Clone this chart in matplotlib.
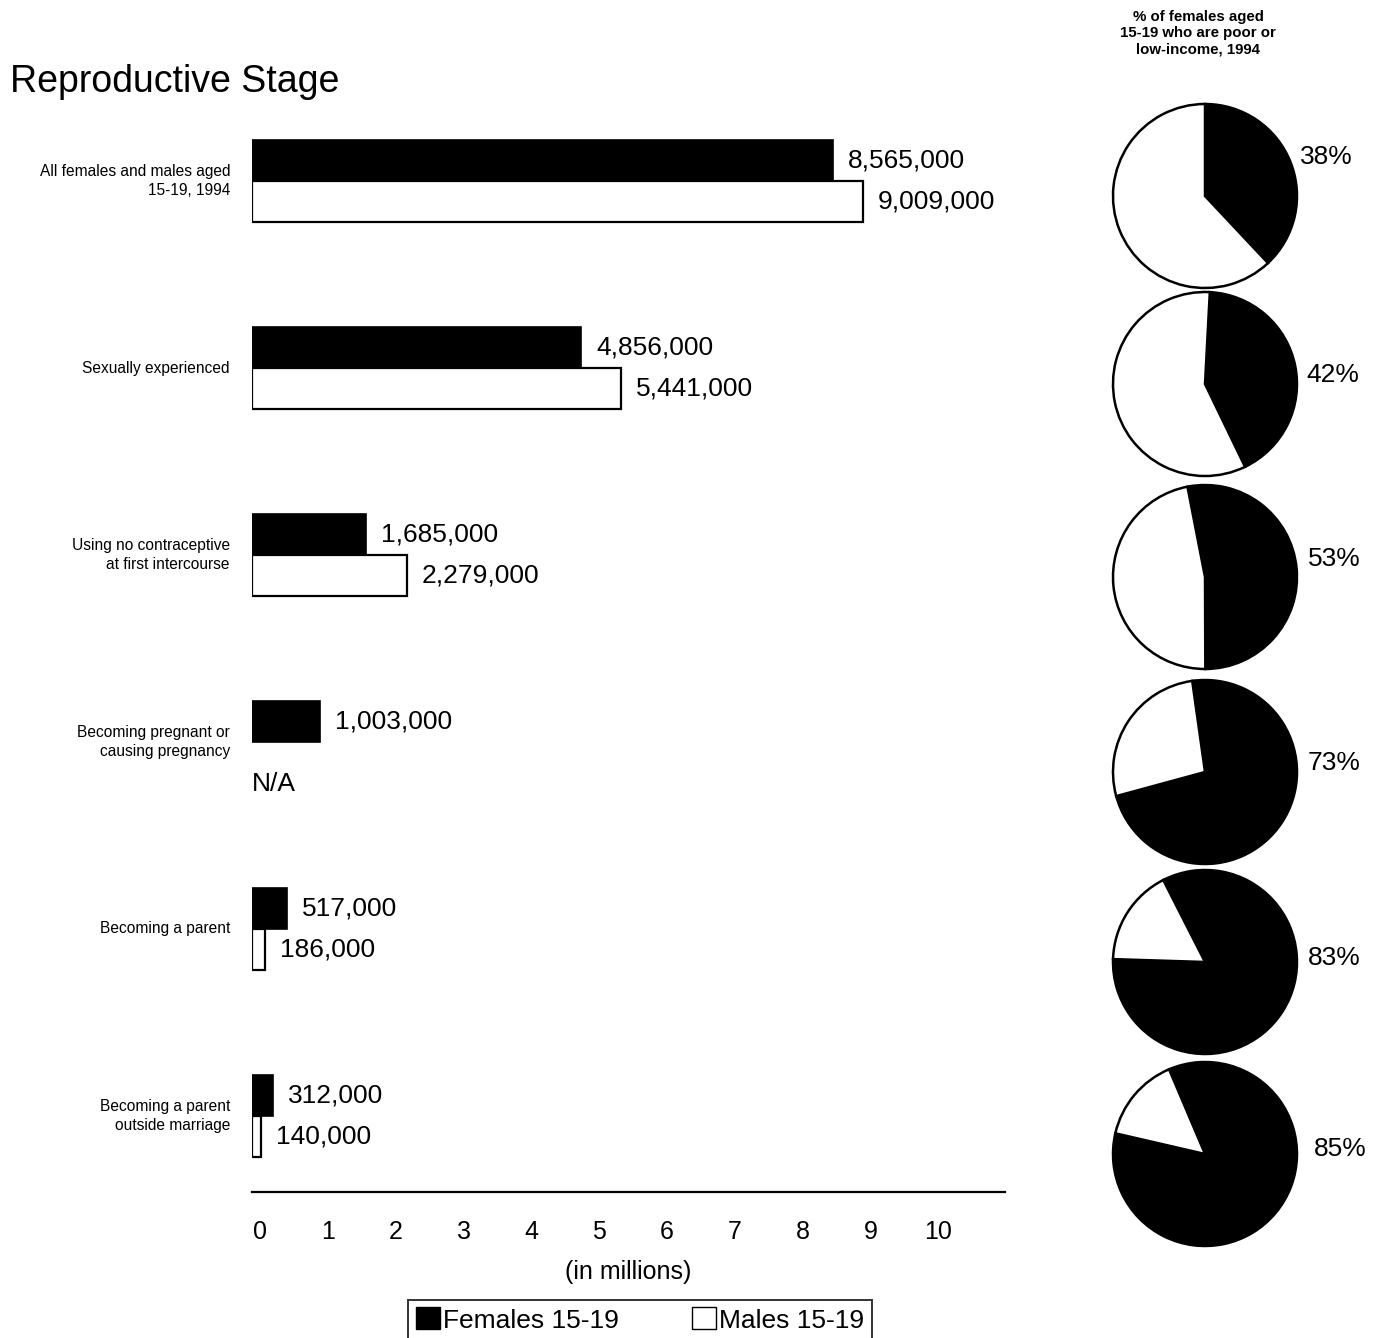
import numpy as np
import matplotlib.pyplot as plt
from matplotlib.patches import Patch
from matplotlib.transforms import blended_transform_factory, ScaledTranslation

plt.rcParams['font.family'] = ['Liberation Sans', 'DejaVu Sans']

stages = ['All females and males aged\n15-19, 1994',
          'Sexually experienced',
          'Using no contraceptive\nat first intercourse',
          'Becoming pregnant or\ncausing pregnancy',
          'Becoming a parent',
          'Becoming a parent\noutside marriage']
females = [8565000, 4856000, 1685000, 1003000, 517000, 312000]
males = [9009000, 5441000, 2279000, None, 186000, 140000]
pct_poor = [38, 42, 53, 73, 83, 85]
x_ticks = list(range(11))

W, H = 1378, 1338
fig = plt.figure(figsize=(W / 100, H / 100), dpi=100)

def fx(px):
    return px / W

def fy(py):
    return 1 - py / H

# bar panel
ax = fig.add_axes([fx(252), fy(1192), fx(753), (1192 - 100) / H])
n = len(stages)
bh = 0.22
for i in range(n):
    f = females[i] / 1e6
    ax.barh(i - bh / 2, f, height=bh, color='black', edgecolor='black', linewidth=1.2)
    ax.text(f + 0.22, i - bh / 2, f'{females[i]:,}', va='center', ha='left', fontsize=19)
    if males[i] is None:
        ax.text(0, i + 0.225, 'N/A', va='center', ha='left', fontsize=19)
    else:
        m = males[i] / 1e6
        ax.barh(i + bh / 2, m, height=bh, color='white', edgecolor='black', linewidth=1.6)
        ax.text(m + 0.22, i + bh / 2, f'{males[i]:,}', va='center', ha='left', fontsize=19)

ax.set_xlim(0, 11.1)
ax.set_ylim(5 + 76 / 187, -81 / 187)
for s in ['top', 'right', 'left']:
    ax.spines[s].set_visible(False)
ax.spines['bottom'].set_linewidth(1.6)
ax.set_yticks([])
ax.set_xticks(x_ticks)
ax.set_xticklabels([str(t) for t in x_ticks], fontsize=18)
ax.tick_params(axis='x', length=0, pad=20)
for lab in ax.get_xticklabels():
    lab.set_transform(lab.get_transform() + ScaledTranslation(0.08, 0, fig.dpi_scale_trans))
ax.set_xlabel('(in millions)', fontsize=18, labelpad=12)

trans = blended_transform_factory(fig.transFigure, ax.transData)
for i, s in enumerate(stages):
    ax.text(fx(230), i, s, transform=trans, ha='right', va='center',
            fontsize=11.2, linespacing=1.35)

fig.text(fx(10), fy(82), 'Reproductive Stage', fontsize=27, ha='left', va='center')

# legend
handles = [Patch(facecolor='black', edgecolor='black', label='Females 15-19'),
           Patch(facecolor='white', edgecolor='black', label='Males 15-19')]
leg = fig.legend(handles=handles, ncol=2, loc='center', bbox_to_anchor=(fx(640), fy(1320)),
                 fontsize=19, frameon=True, fancybox=False, edgecolor='black',
                 handlelength=0.9, handleheight=0.9, handletextpad=0.1,
                 columnspacing=2.8, borderpad=0.3, borderaxespad=0)
leg.get_frame().set_linewidth(1.4)

# pie column
fig.text(fx(1198), fy(33), '% of females aged\n15-19 who are poor or\nlow-income, 1994',
         ha='center', va='center', fontsize=10.8, fontweight='bold', linespacing=1.2)

pie_cy = [196, 384, 577, 772, 962, 1154]
pie_rot = [0, 3, -11, -8, -27, -23]
pct_dx = [1.03, 1.10, 1.12, 1.12, 1.12, 1.18]
pct_dy = [0.42, 0.10, 0.20, 0.10, 0.04, 0.05]
r_px = 92
for k, p in enumerate(pct_poor):
    pax = fig.add_axes([fx(1205 - r_px), fy(pie_cy[k] + r_px), 2 * r_px / W, 2 * r_px / H])
    pax.pie([p, 100 - p], colors=['black', 'white'], startangle=90 - pie_rot[k],
            counterclock=False, wedgeprops=dict(edgecolor='black', linewidth=1.8))
    pax.set_xlim(-1.0, 1.0)
    pax.set_ylim(-1.0, 1.0)
    pax.set_aspect('equal')
    pax.axis('off')
    pax.text(pct_dx[k], pct_dy[k], f'{p}%', ha='left', va='center', fontsize=19, clip_on=False)

fig.savefig('out.png', dpi=100)
